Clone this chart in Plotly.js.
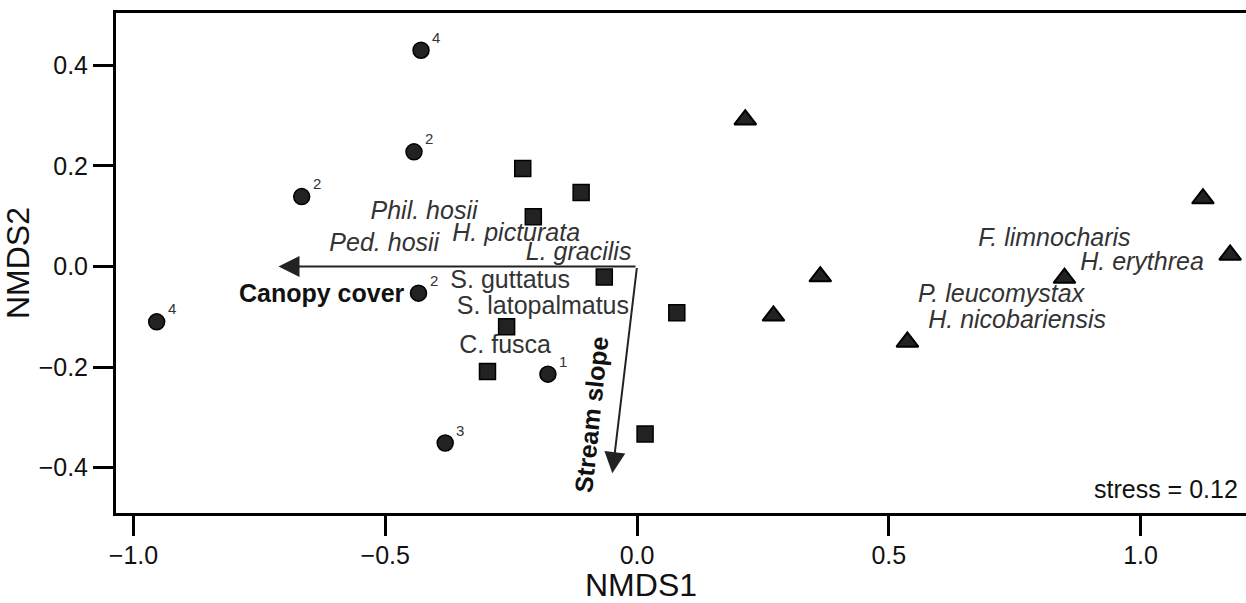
<!DOCTYPE html>
<html>
<head>
<meta charset="utf-8">
<script src="https://cdn.plot.ly/plotly-3.0.1.min.js"></script>
<style>
  html, body { margin: 0; padding: 0; background: #fff; }
  #chart { width: 1246px; height: 603px; }
</style>
</head>
<body>
<div id="chart"></div>
<script>
// NMDS site scores, one group per habitat type
const circleX = [-0.429, -0.443, -0.666, -0.434, -0.954, -0.177, -0.381];
const circleY = [0.430, 0.228, 0.139, -0.053, -0.110, -0.214, -0.351];
const circleTags = ['4', '2', '2', '2', '4', '1', '3'];

const squareX = [-0.227, -0.111, -0.206, -0.065, -0.259, -0.297, 0.079, 0.016];
const squareY = [0.195, 0.147, 0.099, -0.021, -0.120, -0.209, -0.092, -0.333];

const triangleX = [0.215, 1.124, 1.178, 0.849, 0.364, 0.271, 0.537];
const triangleY = [0.292, 0.135, 0.023, -0.023, -0.020, -0.098, -0.150];

// Species scores
const speciesNames = ['Phil. hosii', 'Ped. hosii', 'H. picturata', 'L. gracilis',
  'S. guttatus', 'S. latopalmatus', 'C. fusca', 'F. limnocharis', 'H. erythrea',
  'P. leucomystax', 'H. nicobariensis'];
const speciesX = [-0.423, -0.502, -0.240, -0.116, -0.252, -0.187, -0.262, 0.829, 1.003, 0.723, 0.755];
const speciesY = [0.106, 0.043, 0.063, 0.025, -0.031, -0.083, -0.159, 0.053, 0.006, -0.059, -0.110];
const speciesItalic = [true, true, true, true, false, false, false, true, true, true, true];

// Fitted environmental vectors
const envNames = ['Canopy cover', 'Stream slope'];
const envX = [-0.712, -0.049];
const envY = [0.000, -0.411];
const envLabelX = [-0.626, -0.090];
const envLabelY = [-0.052, -0.294];
const envLabelAngle = [0, -84];

const stressValue = 0.12;
const xTicks = [-1.0, -0.5, 0.0, 0.5, 1.0];
const yTicks = [-0.4, -0.2, 0.0, 0.2, 0.4];

const FONT = 'Liberation Sans, Arial, Helvetica, sans-serif';
const MARK_FILL = '#222222';
const MARK_LINE = { color: '#000000', width: 1.5 };

const traces = [
  {
    type: 'scatter', mode: 'markers', x: circleX, y: circleY,
    marker: { symbol: 'circle', size: 16, color: MARK_FILL, line: MARK_LINE },
    hoverinfo: 'x+y'
  },
  {
    type: 'scatter', mode: 'markers', x: squareX, y: squareY,
    marker: { symbol: 'square', size: 16, color: MARK_FILL, line: MARK_LINE },
    hoverinfo: 'x+y'
  },
  {
    type: 'scatter', mode: 'markers', x: triangleX, y: triangleY,
    marker: { symbol: 'triangle-up', size: 19, color: MARK_FILL, line: { color: '#000000', width: 2 } },
    hoverinfo: 'x+y'
  },
  {
    type: 'scatter', mode: 'text', x: speciesX, y: speciesY,
    text: speciesNames.map((n, i) => speciesItalic[i] ? '<i>' + n + '</i>' : n),
    textposition: 'middle center',
    textfont: { family: FONT, size: 25, color: '#333333' },
    hoverinfo: 'text'
  }
];

const annotations = [];

// vector arrows drawn from the origin
envNames.forEach((name, i) => {
  annotations.push({
    x: envX[i], y: envY[i], xref: 'x', yref: 'y',
    ax: 0, ay: 0, axref: 'x', ayref: 'y',
    text: '', showarrow: true,
    arrowhead: 2, arrowsize: 2.1, arrowwidth: 2, arrowcolor: '#222222', standoff: 0
  });
  annotations.push({
    x: envLabelX[i], y: envLabelY[i], xref: 'x', yref: 'y',
    text: '<b>' + name + '</b>', showarrow: false, textangle: envLabelAngle[i],
    font: { family: FONT, size: 25, color: '#111111' }
  });
});

// sample counts beside each circle
circleX.forEach((x, i) => {
  annotations.push({
    x: x, y: circleY[i], xref: 'x', yref: 'y',
    text: circleTags[i], showarrow: false, xshift: 15, yshift: 13,
    font: { family: FONT, size: 15, color: '#333333' }
  });
});

annotations.push({
  x: 0.9947, y: 0.049, xref: 'paper', yref: 'paper',
  xanchor: 'right', yanchor: 'middle', showarrow: false,
  text: 'stress = ' + stressValue.toFixed(2),
  font: { family: FONT, size: 25, color: '#111111' }
});

// x-axis title, centred under the visible part of the axis
annotations.push({
  x: 0.4646, y: -0.143, xref: 'paper', yref: 'paper',
  xanchor: 'center', yanchor: 'middle', showarrow: false, borderpad: 0,
  text: 'NMDS1',
  font: { family: FONT, size: 32, color: '#111111' }
});

const axisCommon = {
  showgrid: false, zeroline: false,
  showline: true, linewidth: 3, linecolor: '#000000',
  ticks: 'outside', ticklen: 20, tickwidth: 3, tickcolor: '#000000',
  tickformat: '.1f',
  tickfont: { family: FONT, size: 25, color: '#111111' }
};

const layout = {
  width: 1246, height: 603,
  margin: { l: 116, r: 0, t: 13, b: 90 },
  paper_bgcolor: '#ffffff', plot_bgcolor: '#ffffff',
  showlegend: false,
  font: { family: FONT },
  xaxis: Object.assign({}, axisCommon, {
    range: [-1.0348, 1.2095], tickvals: xTicks, mirror: true,
    ticklabelstandoff: -2
  }),
  yaxis: Object.assign({}, axisCommon, {
    range: [-0.4901, 0.5040], tickvals: yTicks, mirror: false,
    title: { text: 'NMDS2', font: { family: FONT, size: 32, color: '#111111' }, standoff: 14 }
  }),
  annotations: annotations
};

Plotly.newPlot('chart', traces, layout, { staticPlot: true, displayModeBar: false });
</script>
</body>
</html>
